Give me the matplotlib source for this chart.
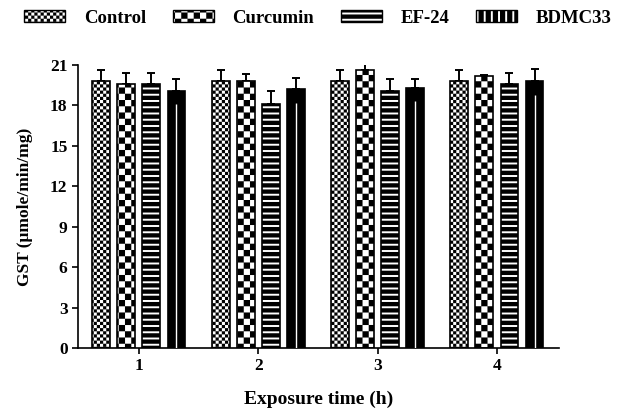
import warnings
import numpy as np
import matplotlib
matplotlib.use("Agg")
import matplotlib.pyplot as plt
import matplotlib.hatch as mhatch
from matplotlib.path import Path
from matplotlib.patches import Patch

warnings.filterwarnings("ignore")

times = [1, 2, 3, 4]
groups = ["Control", "Curcumin", "EF-24", "BDMC33"]
control = [19.8, 19.8, 19.8, 19.8]
control_err = [0.85, 0.85, 0.85, 0.85]
curcumin = [19.6, 19.8, 20.6, 20.2]
curcumin_err = [0.8, 0.55, 0.45, 0.05]
ef24 = [19.6, 18.1, 19.1, 19.6]
ef24_err = [0.8, 1.0, 0.85, 0.8]
bdmc33 = [19.1, 19.2, 19.3, 19.8]
bdmc33_err = [0.85, 0.85, 0.65, 0.9]


# custom hatches: checkerboards and solid bands (filled by the Agg renderer)
class Checker(mhatch.HatchPatternBase):
    def __init__(self, hatch, density):
        self.n = 16 * hatch.count('C') + 32 * hatch.count('c')
        self.num_vertices = (self.n * self.n // 2) * 5

    def set_vertices_and_codes(self, vertices, codes):
        n = self.n
        s = 1.0 / n
        v = []
        for i in range(n):
            for j in range(n):
                if (i + j) % 2 == 0:
                    x0, y0 = i * s, j * s
                    v += [(x0, y0), (x0 + s, y0), (x0 + s, y0 + s), (x0, y0 + s), (x0, y0)]
        vertices[:] = v
        codes[:] = [Path.MOVETO, Path.LINETO, Path.LINETO, Path.LINETO, Path.CLOSEPOLY] * (len(v) // 5)


class Bands(mhatch.HatchPatternBase):
    def __init__(self, hatch, density):
        self.nh = 16 if 'H' in hatch else 0
        self.nv = 14 if 'V' in hatch else 0
        self.num_vertices = (self.nh + self.nv) * 5

    def set_vertices_and_codes(self, vertices, codes):
        v = []
        for k in range(self.nh):
            y0 = k / self.nh
            y1 = y0 + 0.68 / self.nh
            v += [(0, y0), (1, y0), (1, y1), (0, y1), (0, y0)]
        for k in range(self.nv):
            x0 = k / self.nv
            x1 = x0 + 0.72 / self.nv
            v += [(x0, 0), (x1, 0), (x1, 1), (x0, 1), (x0, 0)]
        vertices[:] = v
        codes[:] = [Path.MOVETO, Path.LINETO, Path.LINETO, Path.LINETO, Path.CLOSEPOLY] * (len(v) // 5)


mhatch._hatch_types.append(Checker)
mhatch._hatch_types.append(Bands)

plt.rcParams['font.family'] = ['Liberation Serif', 'DejaVu Serif']
plt.rcParams['font.weight'] = 'bold'
plt.rcParams['axes.labelweight'] = 'bold'
plt.rcParams['hatch.linewidth'] = 0.05

fig = plt.figure(figsize=(6.17, 4.09), dpi=100)
ax = fig.add_axes([0.1264, 0.149, 0.7796, 0.692])

x = np.array(times, dtype=float)
step = 0.21
width = 0.15
series = [control, curcumin, ef24, bdmc33]
errs = [control_err, curcumin_err, ef24_err, bdmc33_err]
hatches = ['c', 'C', 'H', None]
faces = ['white', 'white', 'white', 'black']

for i, (vals, err) in enumerate(zip(series, errs)):
    xs = x + (i - 1.5) * step
    ax.errorbar(xs, vals, yerr=[np.zeros(len(err)), err], fmt='none', ecolor='black',
                elinewidth=1.4, capsize=2.8, capthick=1.4, zorder=1)
    ax.bar(xs, vals, width, color=faces[i], edgecolor='black', linewidth=1.2,
           hatch=hatches[i], zorder=2)
    if groups[i] == "BDMC33":
        ax.vlines(xs, 0, np.array(vals) - 1.0, color='white', linewidth=1.0, zorder=3)

ax.set_xlim(0.49, 4.52)
ax.set_ylim(0, 21)
ax.set_yticks(np.arange(0, 22, 3))
ax.set_xticks(times)
ax.spines['top'].set_visible(False)
ax.spines['right'].set_visible(False)
for s in ['left', 'bottom']:
    ax.spines[s].set_linewidth(1.2)
ax.tick_params(width=1.2, length=4.5, labelsize=12.5, pad=3)
ax.set_xlabel("Exposure time (h)", fontsize=14, labelpad=12)
ax.set_ylabel("GST (\u03bcmole/min/mg)", fontsize=12.5, labelpad=12)

handles = [Patch(facecolor='white', edgecolor='black', linewidth=1.0, hatch='c'),
           Patch(facecolor='white', edgecolor='black', linewidth=1.0, hatch='C'),
           Patch(facecolor='white', edgecolor='black', linewidth=1.0, hatch='H'),
           Patch(facecolor='white', edgecolor='black', linewidth=1.0, hatch='V')]
fig.legend(handles, groups, loc='center', bbox_to_anchor=(0.515, 0.955), ncol=4,
           frameon=False, fontsize=13.5, handlelength=2.2, handleheight=0.6,
           handletextpad=1.0, columnspacing=1.4)

fig.savefig("out.png", dpi=100)
